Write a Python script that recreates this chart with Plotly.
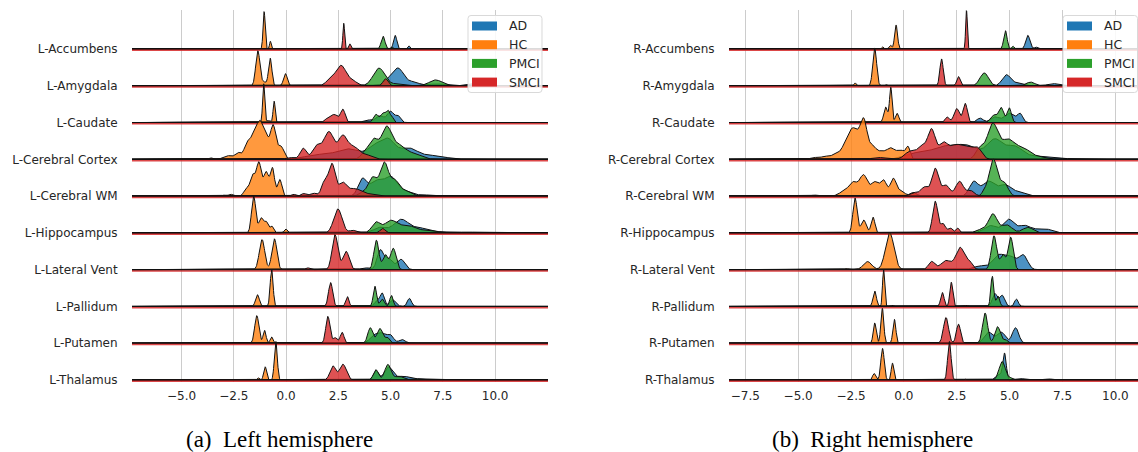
import numpy as np
import plotly.graph_objects as go

# ---------------- data ----------------
GROUPS = ["AD", "HC", "PMCI", "SMCI"]
COLORS = ["#1f77b4", "#ff7f0e", "#2ca02c", "#d62728"]

L_REGIONS = ["L-Accumbens", "L-Amygdala", "L-Caudate", "L-Cerebral Cortex", "L-Cerebral WM",
             "L-Hippocampus", "L-Lateral Vent", "L-Pallidum", "L-Putamen", "L-Thalamus"]
R_REGIONS = ["R-Accumbens", "R-Amygdala", "R-Caudate", "R-Cerebral Cortex", "R-Cerebral WM",
             "R-Hippocampus", "R-Lateral Vent", "R-Pallidum", "R-Putamen", "R-Thalamus"]

L_XTICKS = [-5.0, -2.5, 0.0, 2.5, 5.0, 7.5, 10.0]
L_XTICKTEXT = ["\u22125.0", "\u22122.5", "0.0", "2.5", "5.0", "7.5", "10.0"]
R_XTICKS = [-7.5, -5.0, -2.5, 0.0, 2.5, 5.0, 7.5, 10.0]
R_XTICKTEXT = ["\u22127.5", "\u22125.0", "\u22122.5", "0.0", "2.5", "5.0", "7.5", "10.0"]

CAPTIONS = ["(a)\u2002Left hemisphere", "(b)\u2002Right hemisphere"]

# density peaks: (centre, height in row units, spread)
L_AD = [
    [(5.22, 0.37, 0.08), (5.87, 0.09, 0.05)],
    [(5.35, 0.48, 0.28), (4.85, 0.1, 0.2), (6.1, 0.1, 0.25), (7.2, 0.05, 0.4), (9.2, 0.07, 0.4)],
    [(3.9, 0.07, 0.2), (4.5, 0.18, 0.2), (5.0, 0.3, 0.15), (5.35, 0.18, 0.12)],
    [(1.5, 0.12, 0.6), (3.0, 0.28, 0.6), (4.3, 0.35, 0.35), (4.9, 0.45, 0.3), (5.8, 0.3, 0.45), (7.0, 0.1, 0.6)],
    [(3.65, 0.45, 0.2), (4.3, 0.4, 0.3), (5.0, 0.5, 0.3), (5.7, 0.12, 0.35), (6.8, 0.03, 0.4)],
    [(4.5, 0.15, 0.3), (5.5, 0.36, 0.35), (6.4, 0.13, 0.4), (7.8, 0.04, 0.4), (9.0, 0.02, 0.4)],
    [(3.8, 0.05, 0.2), (4.5, 0.5, 0.15), (4.9, 0.3, 0.2), (5.5, 0.28, 0.18)],
    [(4.35, 0.15, 0.12), (4.6, 0.35, 0.1), (5.1, 0.18, 0.15), (5.9, 0.22, 0.1)],
    [(4.2, 0.2, 0.2), (4.6, 0.25, 0.2), (5.0, 0.2, 0.15), (5.55, 0.1, 0.15)],
    [(4.3, 0.25, 0.12), (4.9, 0.35, 0.2), (5.6, 0.1, 0.3), (6.5, 0.03, 0.4)],
]
L_HC = [
    [(-1.05, 1.02, 0.05), (-0.75, 0.21, 0.04)],
    [(-1.35, 0.95, 0.1), (-0.76, 0.75, 0.08), (-0.03, 0.33, 0.09), (-1.05, 0.1, 0.1)],
    [(-1.07, 1.05, 0.05), (-0.57, 0.58, 0.05), (-0.85, 0.05, 0.1)],
    [(-3.6, 0.04, 0.08), (-2.8, 0.1, 0.2), (-2.3, 0.18, 0.15), (-1.85, 0.45, 0.15), (-1.5, 0.75, 0.15),
     (-1.25, 0.7, 0.12), (-1.0, 0.7, 0.15), (-0.62, 0.9, 0.13), (-0.25, 0.35, 0.15)],
    [(-2.96, 0.03, 0.08), (-2.65, 0.05, 0.1), (-1.9, 0.2, 0.12), (-1.6, 0.55, 0.12), (-1.3, 0.9, 0.12),
     (-0.95, 0.65, 0.12), (-0.65, 0.75, 0.1), (-0.3, 0.45, 0.1)],
    [(-1.55, 1.0, 0.1), (-1.2, 0.4, 0.1), (-0.95, 0.3, 0.1), (-0.68, 0.18, 0.08), (-0.02, 0.11, 0.07)],
    [(-1.15, 0.82, 0.13), (-0.56, 0.84, 0.12)],
    [(-1.37, 0.32, 0.09), (-0.69, 1.0, 0.07)],
    [(-1.4, 0.75, 0.1), (-1.03, 0.35, 0.07), (-0.69, 0.17, 0.07)],
    [(-1.33, 0.06, 0.05), (-1.0, 0.36, 0.07), (-0.49, 1.05, 0.07)],
]
L_PMCI = [
    [(4.64, 0.35, 0.09), (5.05, 0.05, 0.06)],
    [(4.45, 0.48, 0.28), (7.15, 0.16, 0.3), (5.3, 0.05, 0.25)],
    [(4.3, 0.22, 0.12), (4.65, 0.25, 0.12), (4.9, 0.3, 0.1), (5.1, 0.1, 0.06)],
    [(3.8, 0.2, 0.2), (4.2, 0.5, 0.2), (4.8, 0.85, 0.25), (5.4, 0.35, 0.3), (6.1, 0.15, 0.35)],
    [(3.7, 0.1, 0.2), (4.15, 0.5, 0.2), (4.7, 0.9, 0.2), (5.2, 0.4, 0.2), (5.7, 0.15, 0.25)],
    [(4.3, 0.28, 0.2), (5.0, 0.33, 0.3), (5.8, 0.2, 0.35), (6.8, 0.08, 0.4)],
    [(4.32, 0.8, 0.12), (4.75, 0.4, 0.12), (5.13, 0.58, 0.13)],
    [(4.25, 0.55, 0.08), (4.6, 0.2, 0.1), (5.04, 0.3, 0.08)],
    [(4.03, 0.42, 0.12), (4.49, 0.4, 0.14), (4.85, 0.15, 0.1)],
    [(4.3, 0.28, 0.12), (4.87, 0.42, 0.15), (5.4, 0.1, 0.2), (6.3, 0.03, 0.3)],
]
L_SMCI = [
    [(2.76, 0.7, 0.04), (3.05, 0.14, 0.05)],
    [(2.63, 0.55, 0.25), (2.1, 0.15, 0.2), (3.2, 0.12, 0.2), (4.76, 0.19, 0.12)],
    [(1.95, 0.08, 0.12), (2.3, 0.22, 0.18), (2.72, 0.35, 0.11)],
    [(0.2, 0.05, 0.2), (0.82, 0.3, 0.15), (1.45, 0.35, 0.2), (2.05, 0.75, 0.25), (2.7, 0.55, 0.2),
     (3.2, 0.35, 0.3), (3.9, 0.1, 0.25)],
    [(0.35, 0.05, 0.1), (0.85, 0.07, 0.12), (1.3, 0.08, 0.15), (1.85, 0.4, 0.15), (2.2, 0.85, 0.15),
     (2.7, 0.35, 0.2), (3.3, 0.2, 0.3), (4.0, 0.05, 0.25)],
    [(2.48, 0.65, 0.2), (3.2, 0.07, 0.15), (4.62, 0.12, 0.12)],
    [(1.03, 0.05, 0.1), (2.34, 0.95, 0.14), (2.87, 0.5, 0.15)],
    [(2.13, 0.65, 0.1), (2.93, 0.27, 0.08)],
    [(2.0, 0.73, 0.1), (2.35, 0.15, 0.1), (2.68, 0.3, 0.09)],
    [(2.24, 0.38, 0.14), (2.72, 0.43, 0.16)],
]

R_AD = [
    [(5.86, 0.37, 0.1), (6.25, 0.05, 0.08)],
    [(4.85, 0.3, 0.2), (5.4, 0.08, 0.2), (7.04, 0.06, 0.25)],
    [(3.6, 0.12, 0.15), (4.3, 0.15, 0.2), (5.0, 0.25, 0.25), (5.5, 0.22, 0.12)],
    [(0.5, 0.15, 0.5), (1.8, 0.3, 0.6), (3.0, 0.35, 0.6), (4.3, 0.5, 0.35), (5.2, 0.35, 0.4),
     (6.3, 0.08, 0.5), (7.5, 0.02, 0.5)],
    [(3.3, 0.38, 0.2), (4.0, 0.4, 0.3), (4.8, 0.3, 0.3), (5.5, 0.1, 0.25)],
    [(4.1, 0.2, 0.3), (4.95, 0.36, 0.25), (5.7, 0.2, 0.3), (6.6, 0.12, 0.35)],
    [(3.6, 0.1, 0.3), (4.5, 0.4, 0.3), (5.1, 0.3, 0.25), (5.65, 0.38, 0.2)],
    [(4.3, 0.35, 0.12), (4.65, 0.3, 0.12), (5.32, 0.2, 0.09), (6.28, 0.02, 0.08)],
    [(4.0, 0.3, 0.2), (4.6, 0.3, 0.2), (5.28, 0.42, 0.15)],
    [(4.76, 0.7, 0.08), (4.5, 0.15, 0.15), (5.5, 0.04, 0.2), (6.85, 0.03, 0.15)],
]
R_HC = [
    [(-1.01, 0.06, 0.04), (-0.64, 0.1, 0.06), (-0.37, 0.65, 0.07)],
    [(-2.31, 0.08, 0.05), (-1.38, 1.02, 0.09), (-0.84, 0.03, 0.04)],
    [(-0.86, 0.42, 0.09), (-0.62, 0.95, 0.06), (-0.32, 0.25, 0.08)],
    [(-4.24, 0.05, 0.18), (-3.74, 0.08, 0.18), (-3.2, 0.15, 0.22), (-2.7, 0.45, 0.2), (-2.4, 0.6, 0.18),
     (-2.1, 0.45, 0.18), (-1.88, 0.85, 0.15), (-1.5, 0.35, 0.18), (-1.05, 0.2, 0.2), (-0.62, 0.28, 0.18),
     (-0.15, 0.25, 0.2), (0.2, 0.3, 0.1)],
    [(-4.24, 0.03, 0.15), (-2.9, 0.1, 0.2), (-2.4, 0.38, 0.22), (-1.9, 0.55, 0.18), (-1.38, 0.38, 0.18),
     (-0.96, 0.42, 0.15), (-0.5, 0.48, 0.14), (-0.12, 0.15, 0.15), (0.45, 0.1, 0.15)],
    [(-2.31, 0.95, 0.1), (-1.9, 0.35, 0.12), (-1.46, 0.43, 0.09)],
    [(-2.73, 0.03, 0.1), (-1.72, 0.22, 0.2), (-0.67, 1.0, 0.2)],
    [(-2.3, 0.02, 0.04), (-1.38, 0.42, 0.08), (-0.96, 1.0, 0.05), (-0.54, 0.03, 0.04)],
    [(-2.3, 0.02, 0.04), (-1.38, 0.55, 0.07), (-1.02, 0.95, 0.07), (-0.45, 0.65, 0.07)],
    [(-1.41, 0.18, 0.07), (-1.01, 0.86, 0.08), (-0.54, 0.46, 0.06)],
]
R_PMCI = [
    [(4.8, 0.5, 0.08), (5.15, 0.08, 0.05)],
    [(3.8, 0.35, 0.2), (5.99, 0.1, 0.2)],
    [(4.25, 0.2, 0.15), (4.6, 0.4, 0.12), (4.98, 0.4, 0.1)],
    [(3.6, 0.3, 0.2), (4.2, 0.95, 0.25), (4.9, 0.5, 0.3), (5.6, 0.3, 0.35), (6.4, 0.06, 0.35)],
    [(3.8, 0.1, 0.12), (4.23, 1.0, 0.2), (4.75, 0.35, 0.18)],
    [(3.7, 0.1, 0.25), (4.21, 0.5, 0.2), (4.85, 0.22, 0.25), (5.86, 0.15, 0.25)],
    [(4.26, 0.92, 0.13), (4.68, 0.4, 0.12), (5.05, 0.88, 0.12)],
    [(4.18, 0.82, 0.07), (4.45, 0.28, 0.08)],
    [(3.84, 0.82, 0.12), (4.43, 0.45, 0.13), (4.8, 0.1, 0.1)],
    [(4.65, 0.5, 0.15), (5.05, 0.05, 0.1)],
]
R_SMCI = [
    [(2.96, 1.05, 0.04)],
    [(1.78, 0.73, 0.08), (2.58, 0.25, 0.08)],
    [(2.05, 0.15, 0.1), (2.5, 0.38, 0.13), (2.9, 0.52, 0.1)],
    [(-1.2, 0.05, 0.3), (0.3, 0.22, 0.25), (0.85, 0.35, 0.2), (1.31, 0.8, 0.18), (1.85, 0.4, 0.2),
     (2.4, 0.35, 0.3), (3.0, 0.3, 0.3), (3.5, 0.25, 0.2)],
    [(0.47, 0.1, 0.18), (0.98, 0.25, 0.18), (1.48, 0.75, 0.16), (1.98, 0.3, 0.18), (2.63, 0.4, 0.18),
     (3.15, 0.15, 0.18)],
    [(1.48, 0.86, 0.12), (1.85, 0.25, 0.12), (2.2, 0.13, 0.1), (2.53, 0.14, 0.08)],
    [(1.31, 0.22, 0.15), (2.0, 0.25, 0.25), (2.66, 0.6, 0.2), (3.1, 0.2, 0.15)],
    [(1.82, 0.38, 0.08), (2.24, 0.66, 0.07), (2.96, 0.03, 0.05)],
    [(1.99, 0.7, 0.12), (2.58, 0.52, 0.1)],
    [(2.15, 1.05, 0.08), (2.88, 0.03, 0.04)],
]

# ---------------- layout constants ----------------
W, H = 1138, 452
L_XRANGE = [-7.37, 12.53]
R_XRANGE = [-8.27, 11.07]
FONT = "DejaVu Sans"
TXT = "#262626"


def px_x(p):
    return p / W


def px_y(p):
    return 1 - p / H


def rgba(hex_color, a):
    h = hex_color.lstrip("#")
    return "rgba(%d,%d,%d,%s)" % (int(h[0:2], 16), int(h[2:4], 16), int(h[4:6], 16), a)


def density(xs, comps):
    y = np.zeros_like(xs)
    for c, h, s in comps:
        y += h * np.exp(-0.5 * ((xs - c) / s) ** 2)
    return y


fig = go.Figure()

panels = [
    ("x", "y", L_XRANGE, L_REGIONS, [L_AD, L_HC, L_PMCI, L_SMCI]),
    ("x2", "y2", R_XRANGE, R_REGIONS, [R_AD, R_HC, R_PMCI, R_SMCI]),
]

for xa, ya, xr, regions, series in panels:
    xs = np.linspace(xr[0], xr[1], 1400)
    for i, _name in enumerate(regions):
        base = -i
        for g, col in enumerate(COLORS):
            d = density(xs, series[g][i])
            px = np.concatenate([xs, xs[::-1]])
            py = np.concatenate([base + d, np.full_like(xs, base)])
            fig.add_trace(go.Scatter(
                x=px, y=py, xaxis=xa, yaxis=ya, mode="lines", fill="toself",
                fillcolor=rgba(col, 0.8), line=dict(color="#111111", width=1),
                hoverinfo="skip", showlegend=False))
        fig.add_trace(go.Scatter(
            x=[xr[0], xr[1]], y=[base - 0.035, base - 0.035], xaxis=xa, yaxis=ya, mode="lines",
            line=dict(color=rgba(COLORS[3], 0.85), width=1.5), hoverinfo="skip", showlegend=False))

ydom = [px_y(382), px_y(10)]
yrange = [-(382 - 49) / 36.78, (49 - 10) / 36.78]

axis_font = dict(family=FONT, size=12, color=TXT)

common_x = dict(showgrid=True, gridcolor="#cccccc", gridwidth=1, zeroline=False, showline=False,
                ticks="outside", ticklen=3, tickcolor="rgba(0,0,0,0)", tickfont=axis_font,
                automargin=False, fixedrange=True)
common_y = dict(showgrid=False, zeroline=False, showline=False, ticks="outside", ticklen=11,
                tickcolor="rgba(0,0,0,0)", tickfont=axis_font, automargin=False, fixedrange=True)

fig.update_layout(
    template="none",
    width=W, height=H, margin=dict(l=0, r=0, t=0, b=0, pad=0),
    paper_bgcolor="white", plot_bgcolor="white", showlegend=False,
    xaxis=dict(domain=[px_x(132), px_x(548)], range=L_XRANGE, anchor="y",
               tickvals=L_XTICKS, ticktext=L_XTICKTEXT, **common_x),
    xaxis2=dict(domain=[px_x(729), 1.0], range=R_XRANGE, anchor="y2",
                tickvals=R_XTICKS, ticktext=R_XTICKTEXT, **common_x),
    yaxis=dict(domain=ydom, range=yrange, anchor="x", tickvals=[-i for i in range(10)],
               ticktext=L_REGIONS, **common_y),
    yaxis2=dict(domain=ydom, range=yrange, anchor="x2", tickvals=[-i for i in range(10)],
                ticktext=R_REGIONS, **common_y),
)

# legends (one per panel, drawn manually to match the matplotlib look)
shapes = []
annotations = []


def rounded_rect(x0, y0, x1, y1, r):
    X = lambda v: px_x(v)
    Y = lambda v: px_y(v)
    return ("M %f,%f L %f,%f Q %f,%f %f,%f L %f,%f Q %f,%f %f,%f L %f,%f Q %f,%f %f,%f "
            "L %f,%f Q %f,%f %f,%f Z" % (
                X(x0 + r), Y(y0), X(x1 - r), Y(y0), X(x1), Y(y0), X(x1), Y(y0 + r),
                X(x1), Y(y1 - r), X(x1), Y(y1), X(x1 - r), Y(y1),
                X(x0 + r), Y(y1), X(x0), Y(y1), X(x0), Y(y1 - r),
                X(x0), Y(y0 + r), X(x0), Y(y0), X(x0 + r), Y(y0)))


for bx0, bx1 in [(468, 542), (1063, 1137.5)]:
    shapes.append(dict(type="path", xref="paper", yref="paper",
                       path=rounded_rect(bx0, 15.5, bx1, 92.5, 3),
                       line=dict(color="#d9d9d9", width=1), fillcolor="rgba(255,255,255,0.85)",
                       layer="above"))
    for k, (g, col) in enumerate(zip(GROUPS, COLORS)):
        cy = 26 + k * 18.7
        shapes.append(dict(type="rect", xref="paper", yref="paper",
                           x0=px_x(bx0 + 4), x1=px_x(bx0 + 29), y0=px_y(cy - 4.5), y1=px_y(cy + 4.5),
                           line=dict(width=0), fillcolor=col, layer="above"))
        annotations.append(dict(xref="paper", yref="paper", x=px_x(bx0 + 39), y=px_y(cy),
                                xanchor="left", yanchor="middle", text=g, showarrow=False,
                                font=dict(family=FONT, size=12.5, color=TXT)))

for cap, cx in zip(CAPTIONS, [279, 872]):
    annotations.append(dict(xref="paper", yref="paper", x=px_x(cx), y=px_y(439),
                            xanchor="center", yanchor="middle", text=cap, showarrow=False,
                            font=dict(family="Liberation Serif", size=23, color="black")))

fig.update_layout(shapes=shapes, annotations=annotations)

fig.write_html(
    "out.html",
    config={"displayModeBar": False},
    post_script="document.body.style.margin='0';document.body.style.overflow='hidden';",
)
